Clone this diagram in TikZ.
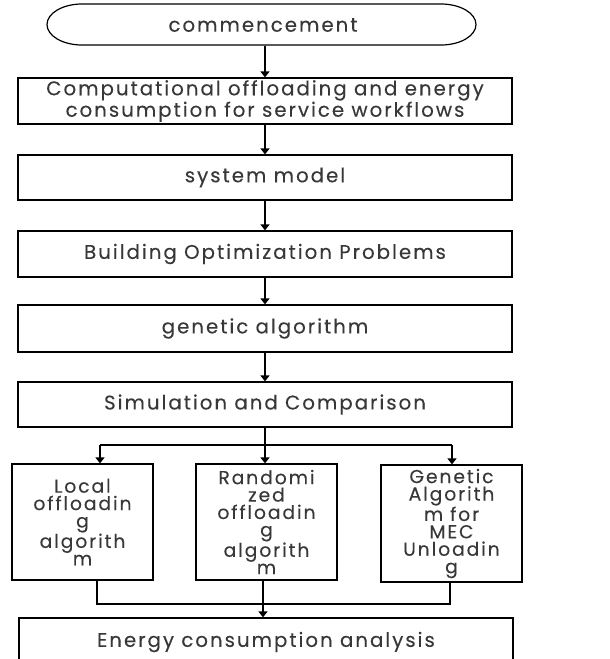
\documentclass[tikz,border=0pt]{standalone}
\usepackage{fontspec}
\setmainfont{Poppins}[LetterSpace=10, FakeBold=0.12]
\usetikzlibrary{arrows.meta}
\begin{document}
\begin{tikzpicture}[x=1pt,y=-1pt,
  txt/.style={text=black!78, font=\fontsize{19.8}{18}\selectfont, align=center, inner sep=0pt},
  small/.style={font=\fontsize{18.8}{17.4}\selectfont},
  box/.style={txt, draw=black, line width=1.2pt},
  arr/.style={draw=black, line width=1.2pt, -{Triangle[width=9pt,length=6pt]}},
  ln/.style={draw=black, line width=1.2pt}
]
\useasboundingbox (0,0) rectangle (610,659);
\clip (0,0) rectangle (610,659);
\draw[ln] (82,4) -- (441,4) arc[start angle=-90, end angle=90, x radius=35, y radius=20.5]
  -- (82,45) arc[start angle=90, end angle=270, x radius=35, y radius=20.5] -- cycle;
\node[txt, minimum width=429, minimum height=41] (s) at (263,25) {commencement};
\node[box, minimum width=494, minimum height=46] (b1) at (265,101) {Computational offloading and energy\\consumption for service workflows};
\node[box, minimum width=494, minimum height=45] (b2) at (265,177.5) {system model};
\node[box, minimum width=494, minimum height=46] (b3) at (265,254) {Building Optimization Problems};
\node[box, minimum width=494, minimum height=47] (b4) at (265,328.5) {genetic algorithm};
\node[box, minimum width=494, minimum height=45] (b5) at (265,404.5) {Simulation and Comparison};
\node[box, small, minimum width=141, minimum height=116] (l) at (82.5,522) {Local\\offloadin\\g\\algorith\\m};
\node[box, small, minimum width=141, minimum height=116] (m) at (266.5,522) {Randomi\\zed\\offloadin\\g\\algorith\\m};
\node[box, small, minimum width=141, minimum height=117] (r) at (451.5,523.5) {Genetic\\Algorith\\m for\\MEC\\Unloadin\\g};
\node[box, minimum width=494, minimum height=60] (e) at (266,648) {};
\node[txt] (et) at (266,642) {Energy consumption analysis};
\draw[arr] (s.south -| b1.north) -- (b1.north);
\draw[arr] (b1) -- (b2);
\draw[arr] (b2) -- (b3);
\draw[arr] (b3) -- (b4);
\draw[arr] (b4) -- (b5);
\coordinate (sL) at (100,445);
\coordinate (sM) at (265,445);
\coordinate (sR) at (452,445);
\draw[ln] (b5.south) -- (sM);
\draw[ln] (sL) -- (sR);
\draw[arr] (sL) -- (sL |- l.north);
\draw[arr] (sM) -- (sM |- m.north);
\draw[arr] (sR) -- (sR |- r.north);
\coordinate (jL) at (97,604);
\coordinate (jM) at (263,604);
\coordinate (jR) at (450,604);
\draw[ln] (jL |- l.south) -- (jL) -- (jR) -- (jR |- r.south);
\draw[arr] (jM |- m.south) -- (jM |- e.north);
\end{tikzpicture}
\end{document}
